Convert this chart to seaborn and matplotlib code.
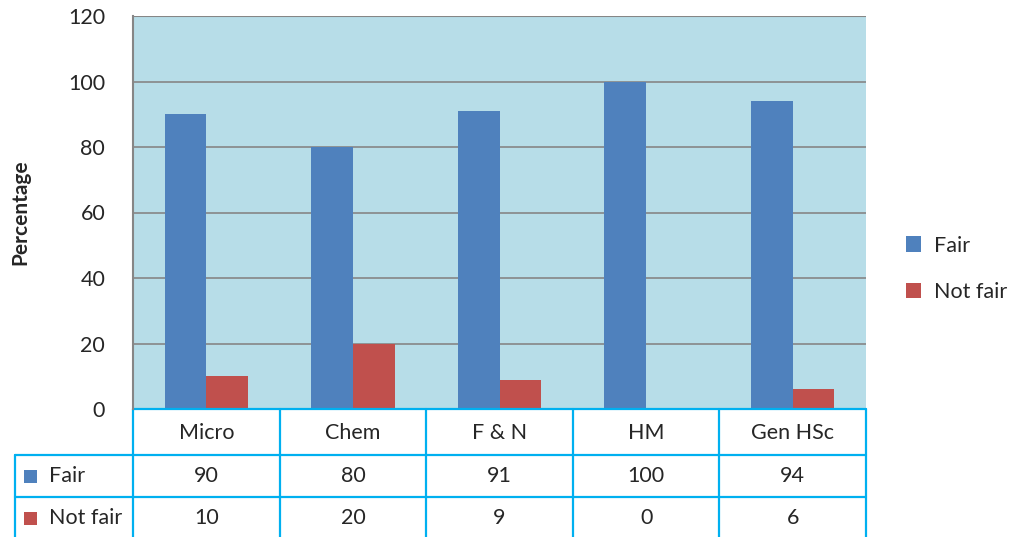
import matplotlib
matplotlib.use("Agg")
import matplotlib.pyplot as plt
from matplotlib.patches import Patch, Rectangle
from matplotlib.lines import Line2D
import seaborn as sns
import pandas as pd

categories = ["Micro", "Chem", "F & N", "HM", "Gen HSc"]
fair = [90, 80, 91, 100, 94]
not_fair = [10, 20, 9, 0, 6]
series_names = ["Fair", "Not fair"]
yticks = [0, 20, 40, 60, 80, 100, 120]

colors = ["#4F81BD", "#C0504D"]
bg = "#B7DDE8"
grid_c = "#868686"
tbl_c = "#00B0F0"

df = pd.DataFrame({
    "cat": categories * 2,
    "series": [series_names[0]] * len(categories) + [series_names[1]] * len(categories),
    "val": fair + not_fair,
})

sns.set_theme(style="white")
plt.rcParams["font.family"] = ["Lato", "DejaVu Sans"]
FS = 15.5

fig = plt.figure(figsize=(10.13, 5.37), dpi=100)
W, H = 1013, 537
ax = fig.add_axes([133 / W, 1 - 409 / H, (866 - 133) / W, (409 - 16) / H])
ax.set_facecolor(bg)

sns.barplot(data=df, x="cat", y="val", hue="series", palette=colors,
            width=0.57, ax=ax, legend=False, saturation=1, edgecolor="none")

ax.set_ylim(0, 120)
ax.set_xlim(-0.5, len(categories) - 0.5)
ax.set_yticks(yticks)
ax.set_yticklabels([str(t) for t in yticks], fontsize=FS)
ax.tick_params(axis="y", length=0, pad=20)
ax.set_xticks([])
ax.set_xlabel("")
ax.set_ylabel("")
ax.yaxis.grid(True, color=grid_c, linewidth=1.2)
ax.set_axisbelow(True)
for s in ["top", "right", "bottom"]:
    ax.spines[s].set_visible(False)
ax.spines["left"].set_color(grid_c)
ax.spines["left"].set_linewidth(1.5)
ax.axhline(120, color=grid_c, linewidth=1.5)

fig.text(20 / W, 1 - 212 / H, "Percentage", rotation=90, ha="center", va="center",
         fontsize=15, fontweight="bold")

# Data table below the plot
ax_h = 409 - 16
def fy(px):  # pixel distance below axes bottom -> axes fraction
    return -px / ax_h

lc = -118 / (866 - 133)  # left edge of label column, axes fraction
tr_x = ax.get_xaxis_transform()  # x data, y axes
tr_a = ax.transAxes
row_y = [0, 46, 88, 130]
kw = dict(color=tbl_c, linewidth=1.6, clip_on=False)
ax.add_line(Line2D([0, 1], [fy(0), fy(0)], transform=tr_a, **kw))
for ry in row_y[1:3]:
    ax.add_line(Line2D([lc, 1], [fy(ry), fy(ry)], transform=tr_a, **kw))
for i in range(len(categories) + 1):
    ax.add_line(Line2D([i - 0.5, i - 0.5], [fy(0), fy(row_y[3])], transform=tr_x, **kw))
ax.add_line(Line2D([lc, lc], [fy(row_y[1]), fy(row_y[3])], transform=tr_a, **kw))

for i, c in enumerate(categories):
    ax.text(i, fy(24), c, transform=tr_x, ha="center", va="center", fontsize=FS, clip_on=False)
    ax.text(i, fy(67), str(fair[i]), transform=tr_x, ha="center", va="center", fontsize=FS, clip_on=False)
    ax.text(i, fy(109), str(not_fair[i]), transform=tr_x, ha="center", va="center", fontsize=FS, clip_on=False)

for k, (name, col) in enumerate(zip(series_names, colors)):
    yc = [67, 109][k]
    sq = 13
    fig.patches.append(Rectangle((24 / W, 1 - (409 + yc + sq / 2) / H), sq / W, sq / H,
                                 transform=fig.transFigure, facecolor=col, edgecolor="none"))
    fig.text(49 / W, 1 - (409 + yc) / H, name, ha="left", va="center", fontsize=FS)

handles = [Patch(facecolor=c, edgecolor="none") for c in colors]
fig.legend(handles, series_names, loc="center left", bbox_to_anchor=(887 / W, 1 - 269 / H),
           frameon=False, fontsize=FS, handlelength=0.7, handleheight=0.7,
           labelspacing=1.25, handletextpad=0.6)

fig.savefig("out.png", dpi=100)
